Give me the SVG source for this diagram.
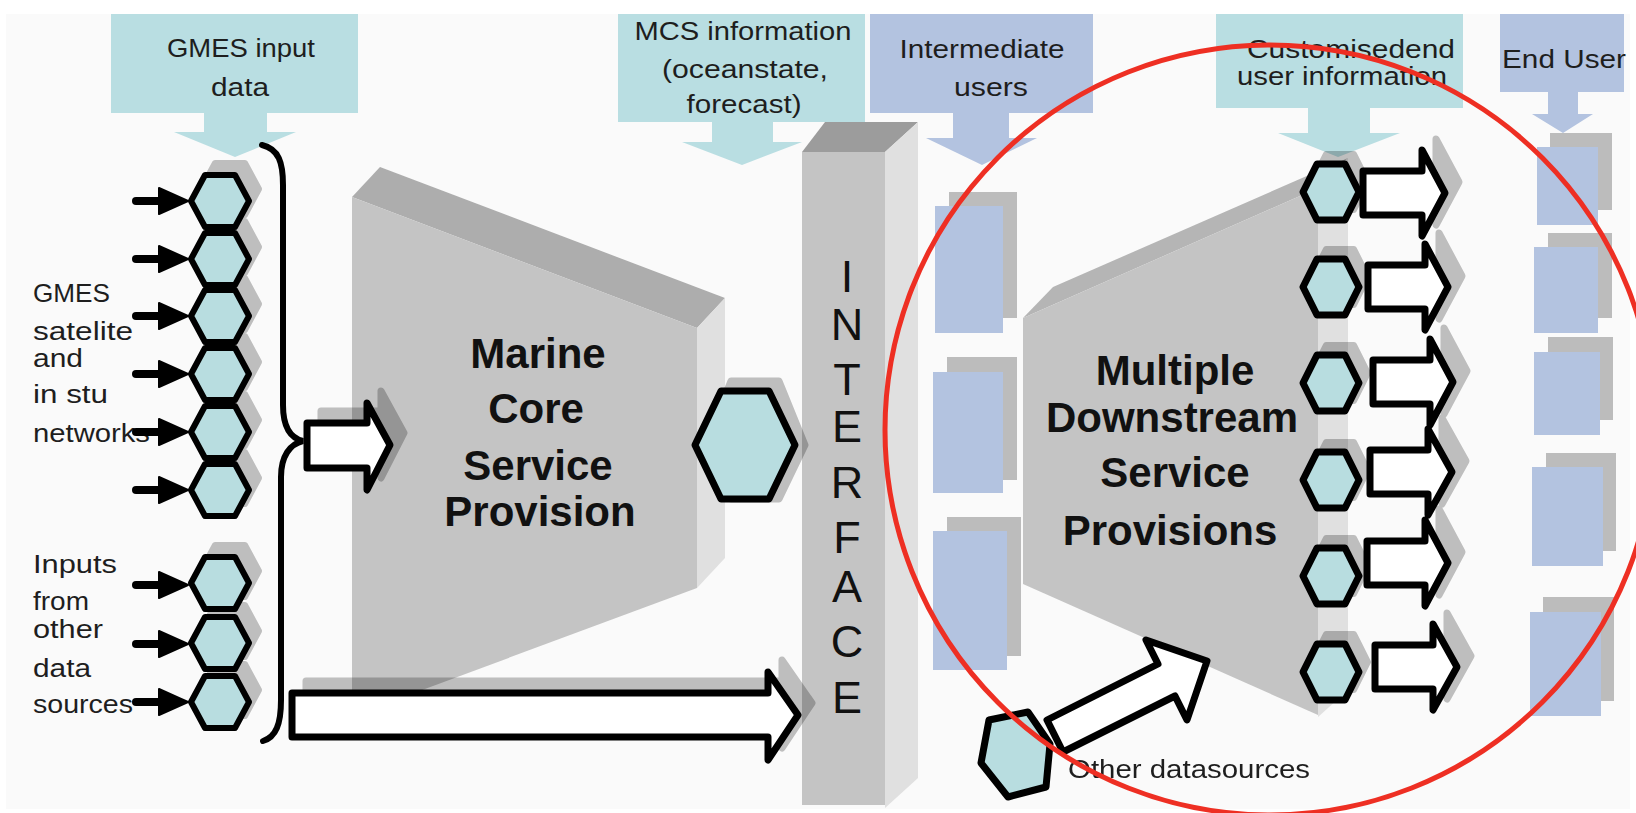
<svg xmlns="http://www.w3.org/2000/svg" xmlns:xlink="http://www.w3.org/1999/xlink" width="1636" height="813" viewBox="0 0 1636 813">
<style>
.teal{fill:#b9dee2}
.blue{fill:#b3c3e0}
.gback{fill:#bcbcbc}
.front{fill:#c4c4c4}
.side{fill:#e0e0e0}
.hex{fill:#b8dde0;stroke:#000;stroke-linejoin:round}
.hol{fill:#fff;stroke:#000;stroke-width:7;stroke-linejoin:round}
.lbl{font-family:"Liberation Sans",Arial,sans-serif;font-size:26px;fill:#1e1e1e}
.side-lbl{font-family:"Liberation Sans",Arial,sans-serif;font-size:25px;fill:#1e1e1e}
.big{font-family:"Liberation Sans",Arial,sans-serif;font-size:42px;font-weight:bold;fill:#111;text-anchor:middle}
.ifc{font-family:"Liberation Sans",Arial,sans-serif;font-size:45px;fill:#111;text-anchor:middle}
.mid{text-anchor:middle}
</style>
<defs>
<path id="hexL" d="M-29,0 L-15,-26 L15,-26 L29,0 L15,26 L-15,26 Z"/>
<path id="hexR" d="M-28,0 L-14,-28 L14,-28 L28,0 L14,28 L-14,28 Z"/>
<g id="inArrow">
<line x1="-52" y1="0" x2="-26" y2="0" stroke="#000" stroke-width="8" stroke-linecap="round"/>
<polygon points="-29,-13 0,0 -29,13" fill="#000" stroke="#000" stroke-width="2" stroke-linejoin="round"/>
</g>
</defs>
<rect x="0" y="0" width="1636" height="813" fill="#fff"/>
<rect x="6" y="14" width="1624" height="795" fill="#fafafa"/>

<g id="gmes-input-data">
<rect class="teal" x="111" y="14" width="247" height="99"/>
<polygon class="teal" points="204,112 267,112 267,132 296,132 235,157 174,132 204,132"/>
<text class="lbl mid" x="241" y="57" textLength="148" lengthAdjust="spacingAndGlyphs">GMES input</text>
<text class="lbl mid" x="240" y="96" textLength="58" lengthAdjust="spacingAndGlyphs">data</text>
</g>

<g id="mcs-information">
<rect class="teal" x="618" y="14" width="247" height="108"/>
<polygon class="teal" points="712,121 773,121 773,142 802,142 742,165 682,142 712,142"/>
<text class="lbl mid" x="743" y="40" textLength="217" lengthAdjust="spacingAndGlyphs">MCS information</text>
<text class="lbl mid" x="745" y="78" textLength="166" lengthAdjust="spacingAndGlyphs">(oceanstate,</text>
<text class="lbl mid" x="744" y="113" textLength="115" lengthAdjust="spacingAndGlyphs">forecast)</text>
</g>

<g id="intermediate-users">
<rect class="blue" x="870" y="14" width="223" height="99"/>
<polygon class="blue" points="953,112 1009,112 1009,138 1037,138 982,165 926,138 953,138"/>
<text class="lbl mid" x="982" y="58" textLength="165" lengthAdjust="spacingAndGlyphs">Intermediate</text>
<text class="lbl mid" x="991" y="96" textLength="74" lengthAdjust="spacingAndGlyphs">users</text>
<rect class="gback" x="949" y="192" width="68" height="126"/>
<rect class="blue" x="935" y="206" width="68" height="127"/>
<rect class="gback" x="947" y="357" width="70" height="123"/>
<rect class="blue" x="933" y="372" width="70" height="121"/>
<rect class="gback" x="947" y="517" width="74" height="139"/>
<rect class="blue" x="933" y="531" width="74" height="139"/>
</g>

<g id="customised-info">
<rect class="teal" x="1216" y="14" width="247" height="94"/>
<polygon class="teal" points="1308,107 1370,107 1370,133 1400,133 1338,157 1278,133 1308,133"/>
<text class="lbl mid" x="1351" y="58" textLength="208" lengthAdjust="spacingAndGlyphs">Customisedend</text>
<text class="lbl mid" x="1342" y="85" textLength="210" lengthAdjust="spacingAndGlyphs">user information</text>
</g>

<g id="end-user">
<rect class="blue" x="1500" y="14" width="124" height="78"/>
<polygon class="blue" points="1548,91 1578,91 1578,114 1593,114 1563,133 1532,114 1548,114"/>
<text class="lbl mid" x="1564" y="68" textLength="124" lengthAdjust="spacingAndGlyphs">End User</text>
<rect class="gback" x="1550" y="133" width="62" height="77"/>
<rect class="blue" x="1537" y="147" width="61" height="78"/>
<rect class="gback" x="1548" y="233" width="64" height="85"/>
<rect class="blue" x="1534" y="247" width="64" height="86"/>
<rect class="gback" x="1548" y="337" width="65" height="83"/>
<rect class="blue" x="1534" y="352" width="66" height="83"/>
<rect class="gback" x="1546" y="453" width="70" height="98"/>
<rect class="blue" x="1532" y="467" width="71" height="99"/>
<rect class="gback" x="1543" y="597" width="71" height="104"/>
<rect class="blue" x="1530" y="612" width="71" height="104"/>
</g>

<g id="marine-core">
<polygon fill="#adadad" points="352,197 380,167 725,298 697,328"/>
<polygon class="front" points="352,197 697,328 697,588 352,716"/>
<polygon class="side" points="697,328 725,298 725,558 697,588"/>
<text class="big" x="538" y="368">Marine</text>
<text class="big" x="536" y="423">Core</text>
<text class="big" x="538" y="480">Service</text>
<text class="big" x="540" y="526">Provision</text>
</g>

<g id="interface">
<polygon fill="#9c9c9c" points="802,152 825,122 918,122 885,152"/>
<rect class="front" x="802" y="152" width="83" height="653"/>
<polygon class="side" points="885,152 918,122 918,778 885,808"/>
<text class="ifc" x="847" y="292">I</text>
<text class="ifc" x="847" y="340">N</text>
<text class="ifc" x="847" y="395">T</text>
<text class="ifc" x="847" y="442">E</text>
<text class="ifc" x="847" y="498">R</text>
<text class="ifc" x="847" y="553">F</text>
<text class="ifc" x="847" y="602">A</text>
<text class="ifc" x="847" y="657">C</text>
<text class="ifc" x="847" y="713">E</text>
</g>

<g id="downstream">
<polygon fill="#b5b5b5" points="1023,318 1053,287 1348,158 1318,188"/>
<polygon class="front" points="1023,318 1318,188 1318,715 1023,584"/>
<polygon class="side" points="1318,188 1348,158 1348,690 1318,717"/>
<text class="big" x="1175" y="385">Multiple</text>
<text class="big" x="1172" y="432">Downstream</text>
<text class="big" x="1175" y="487">Service</text>
<text class="big" x="1170" y="545">Provisions</text>
</g>

<g id="left-labels">
<text class="side-lbl" x="33" y="302" textLength="77" lengthAdjust="spacingAndGlyphs">GMES</text>
<text class="side-lbl" x="33" y="340" textLength="100" lengthAdjust="spacingAndGlyphs">satelite</text>
<text class="side-lbl" x="33" y="367" textLength="50" lengthAdjust="spacingAndGlyphs">and</text>
<text class="side-lbl" x="33" y="403" textLength="75" lengthAdjust="spacingAndGlyphs">in stu</text>
<text class="side-lbl" x="33" y="442" textLength="117" lengthAdjust="spacingAndGlyphs">networks</text>
<text class="side-lbl" x="33" y="573" textLength="84" lengthAdjust="spacingAndGlyphs">Inputs</text>
<text class="side-lbl" x="33" y="610" textLength="56" lengthAdjust="spacingAndGlyphs">from</text>
<text class="side-lbl" x="33" y="638" textLength="70" lengthAdjust="spacingAndGlyphs">other</text>
<text class="side-lbl" x="33" y="677" textLength="58" lengthAdjust="spacingAndGlyphs">data</text>
<text class="side-lbl" x="33" y="713" textLength="100" lengthAdjust="spacingAndGlyphs">sources</text>
</g>

<g id="shadows" opacity="0.24">
<g fill="#000" stroke="#000" stroke-width="6" stroke-linejoin="round">
<use xlink:href="#hexL" x="230" y="189"/>
<use xlink:href="#hexL" x="230" y="247"/>
<use xlink:href="#hexL" x="230" y="304"/>
<use xlink:href="#hexL" x="230" y="362"/>
<use xlink:href="#hexL" x="230" y="420"/>
<use xlink:href="#hexL" x="230" y="478"/>
<use xlink:href="#hexL" x="230" y="571"/>
<use xlink:href="#hexL" x="230" y="631"/>
<use xlink:href="#hexL" x="230" y="690"/>
<use xlink:href="#hexR" x="1340" y="182"/>
<use xlink:href="#hexR" x="1340" y="277"/>
<use xlink:href="#hexR" x="1340" y="373"/>
<use xlink:href="#hexR" x="1340" y="470"/>
<use xlink:href="#hexR" x="1340" y="566"/>
<use xlink:href="#hexR" x="1340" y="662"/>
<path d="M705,445 L731,381 L779,381 L805,445 L779,499 L731,499 Z" stroke-width="7"/>
</g>
<g fill="#000" stroke="#000" stroke-width="7" stroke-linejoin="round">
<polygon points="321,411 381,411 381,391 404,433 381,478 381,456 321,456"/>
<polygon points="306,681 782,681 782,660 812,703 782,748 782,725 306,725"/>
<polygon points="1377,182 1436,182 1436,139 1459,182 1436,225 1436,204 1377,204"/>
<polygon points="1382,276 1439,276 1439,233 1462,276 1439,319 1439,298 1382,298"/>
<polygon points="1387,371 1444,371 1444,328 1467,371 1444,414 1444,393 1387,393"/>
<polygon points="1384,461 1442,461 1442,418 1466,461 1442,504 1442,483 1384,483"/>
<polygon points="1381,552 1439,552 1439,509 1462,552 1439,595 1439,574 1381,574"/>
<polygon points="1389,656 1447,656 1447,613 1471,656 1447,699 1447,678 1389,678"/>
</g>
</g>

<g id="gmes-hexagons">
<g class="hex" stroke-width="6">
<use xlink:href="#hexL" x="220" y="201"/>
<use xlink:href="#hexL" x="220" y="259"/>
<use xlink:href="#hexL" x="220" y="316"/>
<use xlink:href="#hexL" x="220" y="374"/>
<use xlink:href="#hexL" x="220" y="432"/>
<use xlink:href="#hexL" x="220" y="490"/>
</g>
</g>
<g id="other-input-hexagons">
<g class="hex" stroke-width="6">
<use xlink:href="#hexL" x="220" y="583"/>
<use xlink:href="#hexL" x="220" y="643"/>
<use xlink:href="#hexL" x="220" y="702"/>
</g>
</g>
<g id="mcs-hexagon">
<path class="hex" stroke-width="7" d="M695,445 L721,391 L769,391 L795,445 L769,499 L721,499 Z"/>
</g>
<g id="downstream-hexagons">
<g class="hex" stroke-width="7">
<use xlink:href="#hexR" x="1331" y="192"/>
<use xlink:href="#hexR" x="1331" y="287"/>
<use xlink:href="#hexR" x="1331" y="383"/>
<use xlink:href="#hexR" x="1331" y="480"/>
<use xlink:href="#hexR" x="1331" y="576"/>
<use xlink:href="#hexR" x="1331" y="672"/>
</g>
</g>

<g id="connectors">
<use xlink:href="#inArrow" x="188" y="201"/>
<use xlink:href="#inArrow" x="188" y="259"/>
<use xlink:href="#inArrow" x="188" y="316"/>
<use xlink:href="#inArrow" x="188" y="374"/>
<use xlink:href="#inArrow" x="188" y="432"/>
<use xlink:href="#inArrow" x="188" y="490"/>
<use xlink:href="#inArrow" x="188" y="585"/>
<use xlink:href="#inArrow" x="188" y="644"/>
<use xlink:href="#inArrow" x="188" y="702"/>
<path d="M262,145 C279,149 283,163 283,185 L283,405 C283,426 290,438 303,441 C290,444 281,456 281,477 L281,700 C281,724 276,737 263,741" fill="none" stroke="#000" stroke-width="6" stroke-linecap="round"/>
<polygon class="hol" points="307,423 367,423 367,403 390,445 367,490 367,468 307,468"/>
<polygon class="hol" points="292,693 768,693 768,672 798,715 768,760 768,737 292,737"/>
<polygon class="hol" points="1363,171 1422,171 1422,150 1445,193 1422,236 1422,215 1363,215"/>
<polygon class="hol" points="1368,265 1425,265 1425,244 1448,287 1425,330 1425,309 1368,309"/>
<polygon class="hol" points="1373,360 1430,360 1430,339 1453,382 1430,425 1430,404 1373,404"/>
<polygon class="hol" points="1370,450 1428,450 1428,429 1452,472 1428,515 1428,494 1370,494"/>
<polygon class="hol" points="1367,541 1425,541 1425,520 1448,563 1425,606 1425,585 1367,585"/>
<polygon class="hol" points="1375,645 1433,645 1433,624 1457,667 1433,710 1433,689 1375,689"/>
<polygon class="hol" points="1047,720 1158,664 1146,640 1207,661 1187,720 1175,696 1063,752"/>
</g>

<g id="other-data-sources">
<polygon class="hex" stroke-width="7" points="989,720 1028,712 1050,744 1046,787 1008,797 981,763"/>
<text class="lbl" x="1068" y="778" textLength="242" lengthAdjust="spacingAndGlyphs">Other datasources</text>
</g>

<ellipse cx="1270" cy="430" rx="385" ry="385" fill="none" stroke="#ee2f23" stroke-width="5"/>
</svg>
